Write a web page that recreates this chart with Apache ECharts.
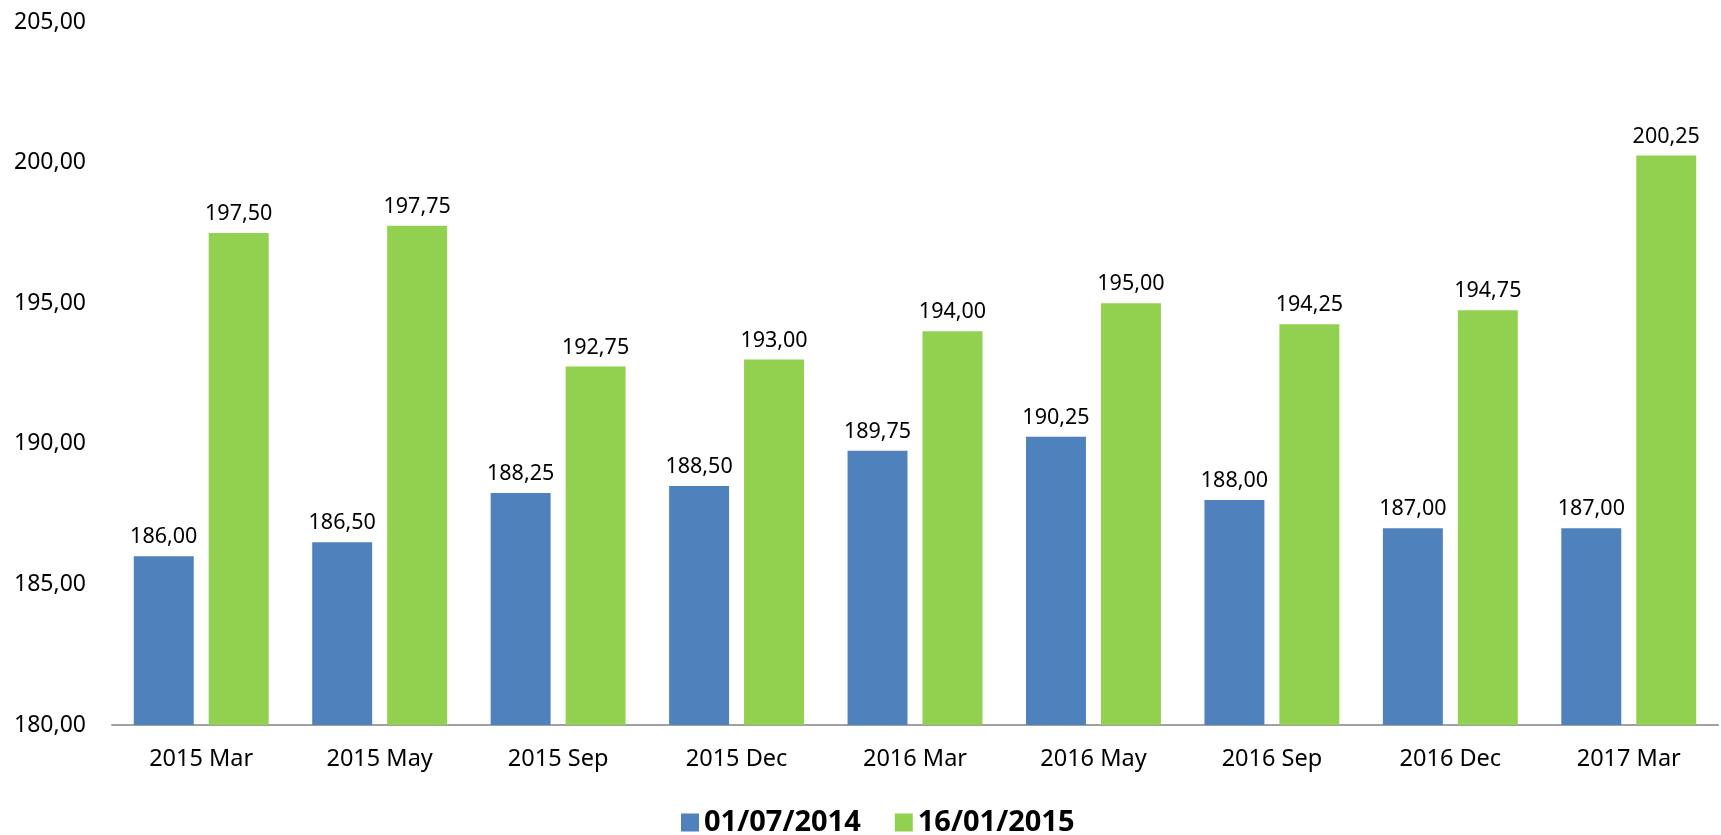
<!DOCTYPE html>
<html>
<head>
<meta charset="utf-8">
<script src="https://cdn.jsdelivr.net/npm/echarts@6/dist/echarts.min.js"></script>
<style>
  html, body { margin: 0; padding: 0; background: #fff; }
  #chart { width: 1721px; height: 835px; }
</style>
</head>
<body>
<div id="chart"></div>
<script>
  const categories = ['2015 Mar', '2015 May', '2015 Sep', '2015 Dec', '2016 Mar', '2016 May', '2016 Sep', '2016 Dec', '2017 Mar']
  const seriesNames = ['01/07/2014', '16/01/2015']
  const values2014 = [186.00, 186.50, 188.25, 188.50, 189.75, 190.25, 188.00, 187.00, 187.00]
  const values2015 = [197.50, 197.75, 192.75, 193.00, 194.00, 195.00, 194.25, 194.75, 200.25]

  const fmt = v => Number(v).toFixed(2).replace('.', ',')
  const font = '"Noto Sans", sans-serif'

  const ec = echarts.init(document.getElementById('chart'))
  ec.setOption({
    animation: false,
    textStyle: { fontFamily: font },
    grid: { left: 112, right: 3, top: 22, bottom: 110 },
    legend: {
      top: 803,
      left: 676,
      itemWidth: 18,
      itemHeight: 18,
      itemGap: 34,
      icon: 'rect',
      textStyle: { fontSize: 29, fontWeight: 'bold', color: '#000', fontFamily: font },
      data: seriesNames
    },
    xAxis: {
      type: 'category',
      data: categories,
      axisTick: { show: false },
      axisLine: { lineStyle: { color: '#a0a0a0', width: 2 } },
      axisLabel: { fontSize: 23.5, color: '#000', margin: 22 }
    },
    yAxis: {
      type: 'value',
      min: 180,
      max: 205,
      interval: 5,
      splitLine: { show: false },
      axisLine: { show: false },
      axisTick: { show: false },
      axisLabel: { fontSize: 23, color: '#000', margin: 26, formatter: v => fmt(v) }
    },
    series: [
      {
        name: seriesNames[0],
        type: 'bar',
        barWidth: '33.6%',
        barGap: '25%',
        itemStyle: { color: '#4F81BD' },
        label: { show: true, position: 'top', distance: 8, fontSize: 21.5, color: '#000', formatter: p => fmt(p.value) },
        data: values2014
      },
      {
        name: seriesNames[1],
        type: 'bar',
        barWidth: '33.6%',
        barGap: '25%',
        itemStyle: { color: '#92D050' },
        label: { show: true, position: 'top', distance: 8, fontSize: 21.5, color: '#000', formatter: p => fmt(p.value) },
        data: values2015
      }
    ]
  })
  window.addEventListener('resize', ec.resize)
</script>
</body>
</html>
